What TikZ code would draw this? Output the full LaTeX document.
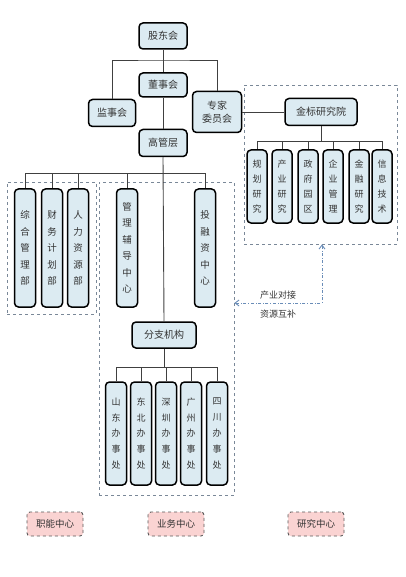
\documentclass[tikz,border=0pt]{standalone}
\usepackage{fontspec}
\setmainfont{Noto Sans CJK SC}
\usetikzlibrary{arrows.meta}
\definecolor{boxfill}{HTML}{DCEBF2}
\definecolor{regionline}{HTML}{7A8898}
\definecolor{linkblue}{HTML}{6A8DB8}
\definecolor{legendfill}{HTML}{FAD3D2}
\tikzset{
  unit/.style={draw=black, line width=1.5pt, rounded corners=4pt, fill=boxfill,
    text=black!80, inner sep=2pt, font=\fontsize{10}{13}\selectfont, align=center},
  vunit/.style={unit, minimum width=21pt, font=\fontsize{9.5}{16.5}\selectfont},
  region/.style={draw=regionline, dashed, line width=0.8pt, inner sep=0pt},
  tie/.style={draw=black!75, line width=0.9pt},
  link/.style={draw=linkblue, dash dot, line width=0.9pt, {Straight Barb[length=4pt,width=6pt]}-{Straight Barb[length=4pt,width=6pt]}},
  legend/.style={draw=black!65, dashed, line width=0.9pt, rounded corners=3pt, fill=legendfill,
    minimum width=56pt, minimum height=24pt, text=black!80, font=\fontsize{9.5}{12}\selectfont}
}

\begin{document}
\begin{tikzpicture}[x=1pt, y=-1pt]
  \useasboundingbox (0,0) rectangle (405,577);
  % regions
  \node[region, minimum width=153pt, minimum height=159pt] (yjq) at (320.5,164.5) {};
  \node[region, minimum width=89pt, minimum height=132pt] (znq) at (51.5,248) {};
  \node[region, minimum width=135pt, minimum height=313pt] (ywq) at (166.5,338.5) {};
  % top levels
  \coordinate (tbar) at (163,60);
  \coordinate (gbar) at (163,173);
  \coordinate (jbar) at (321,141);
  \coordinate (fbar) at (164,367);
  \node[unit, minimum width=48pt, minimum height=26pt] (gdh) at (163,36) {股东会};
  \node[unit, minimum width=48pt, minimum height=24pt] (dsh) at (163,85) {董事会};
  \node[unit, minimum width=47pt, minimum height=27pt] (jsh) at (112,113) {监事会};
  \node[unit, minimum width=49pt, minimum height=41pt] (zjw) at (217,112) {专家\\委员会};
  \node[unit, minimum width=48pt, minimum height=27pt] (ggc) at (163,143) {高管层};
  \node[unit, minimum width=72pt, minimum height=27pt] (jby) at (321,112) {金标研究院};
  \draw[tie] (jsh.north) |- (tbar) -| (zjw.north);
  \draw[tie] (gdh.south) -- (dsh.north);
  \draw[tie] (dsh.south) -- (ggc.north);
  \draw[tie] (zjw.east) -- (jby.west);
  \draw[tie] (jby.south) -- (jbar);
  % research units
  \foreach \x/\t [count=\i] in {257/规\\划\\研\\究, 282/产\\业\\研\\究, 308/政\\府\\园\\区,
      333/企\\业\\管\\理, 359/金\\融\\研\\究, 382/信\\息\\技\\术} {
    \node[vunit, minimum width=20pt, minimum height=73pt, font=\fontsize{9}{15}\selectfont] (r\i) at (\x,186.5) {\t};
    \draw[tie] (r\i.north) |- (jbar);
  }
  % management level
  \node[vunit, minimum height=118pt] (zh) at (25,248) {综\\合\\管\\理\\部};
  \node[vunit, minimum height=118pt] (cw) at (52,248) {财\\务\\计\\划\\部};
  \node[vunit, minimum height=118pt] (rl) at (78,248) {人\\力\\资\\源\\部};
  \node[vunit, minimum height=118pt] (gl) at (127,248) {管\\理\\辅\\导\\中\\心};
  \node[vunit, minimum height=118pt] (trz) at (205,248) {投\\融\\资\\中\\心};
  \foreach \n in {zh, cw, rl, gl, trz}
    \draw[tie] (\n.north) |- (gbar);
  \node[unit, minimum width=64pt, minimum height=26pt] (fz) at (164,335) {分支机构};
  \draw[tie] (ggc.south) -- (fz.north);
  \draw[tie] (fz.south) -- (fbar);
  % branch offices
  \foreach \x/\t [count=\i] in {116/山\\东\\办\\事\\处, 141/东\\北\\办\\事\\处, 166/深\\圳\\办\\事\\处,
      191/广\\州\\办\\事\\处, 217/四\\川\\办\\事\\处} {
    \node[vunit, minimum height=103pt, font=\fontsize{9}{15.8}\selectfont] (b\i) at (\x,433.5) {\t};
    \draw[tie] (b\i.north) |- (fbar);
  }
  % cooperation link
  \coordinate (turn) at (322,303);
  \draw[link] (yjq.south -| turn) -- (turn) -- (ywq.east |- turn)
    node[midway, above, text=black!80, font=\fontsize{9}{11}\selectfont] {产业对接}
    node[midway, below, text=black!80, font=\fontsize{9}{11}\selectfont, yshift=-3pt] {资源互补};
  % legend
  \node[legend] (l1) at (55,524) {职能中心};
  \node[legend] (l2) at (176,524) {业务中心};
  \node[legend] (l3) at (316,524) {研究中心};
\end{tikzpicture}
\end{document}
